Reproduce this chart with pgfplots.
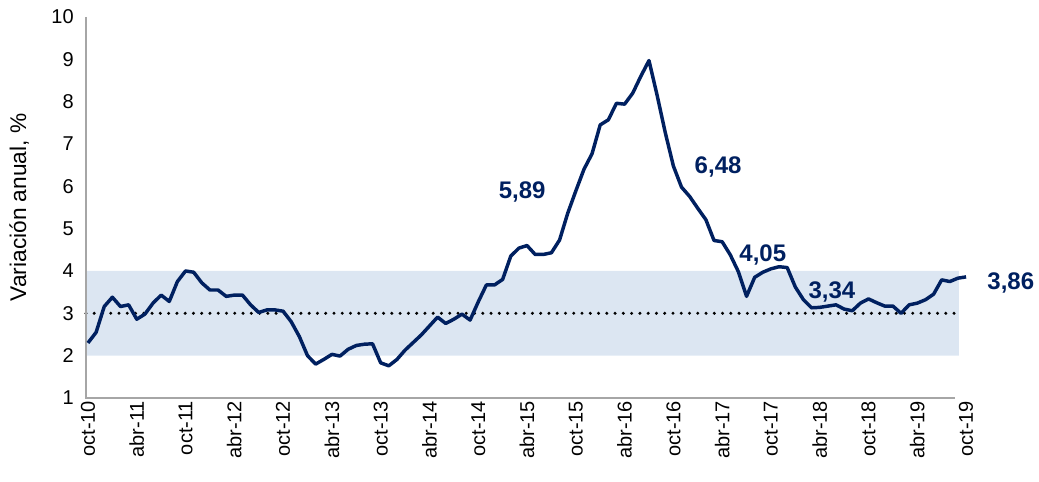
\documentclass[border=0pt]{standalone}
\usepackage{fontspec}
\setmainfont{Liberation Sans}
\usepackage{pgfplots}
\pgfplotsset{compat=1.18}
\definecolor{navy}{HTML}{002060}
\definecolor{bandblue}{HTML}{DCE6F2}
\definecolor{axisgray}{HTML}{A6A6A6}

% inflacion anual, oct-10 (0) a oct-19 (108)
\pgfplotstableread{
m v
0 2.30
1 2.55
2 3.16
3 3.38
4 3.16
5 3.20
6 2.86
7 2.98
8 3.24
9 3.43
10 3.28
11 3.75
12 4.00
13 3.97
14 3.72
15 3.55
16 3.55
17 3.40
18 3.43
19 3.43
20 3.20
21 3.02
22 3.08
23 3.08
24 3.05
25 2.80
26 2.45
27 2.00
28 1.80
29 1.91
30 2.03
31 1.99
32 2.15
33 2.24
34 2.27
35 2.28
36 1.83
37 1.76
38 1.91
39 2.13
40 2.31
41 2.49
42 2.70
43 2.91
44 2.76
45 2.86
46 2.98
47 2.84
48 3.27
49 3.67
50 3.67
51 3.80
52 4.35
53 4.54
54 4.60
55 4.39
56 4.39
57 4.43
58 4.73
59 5.36
60 5.89
61 6.40
62 6.77
63 7.45
64 7.57
65 7.96
66 7.94
67 8.20
68 8.60
69 8.97
70 8.15
71 7.27
72 6.48
73 5.98
74 5.76
75 5.48
76 5.21
77 4.72
78 4.69
79 4.38
80 3.98
81 3.40
82 3.85
83 3.97
84 4.05
85 4.10
86 4.08
87 3.62
88 3.32
89 3.13
90 3.14
91 3.17
92 3.20
93 3.10
94 3.06
95 3.24
96 3.34
97 3.25
98 3.17
99 3.17
100 3.00
101 3.20
102 3.24
103 3.32
104 3.45
105 3.79
106 3.75
107 3.83
108 3.86
}\inflacion

\begin{document}
\begin{tikzpicture}
\begin{axis}[
    scale only axis,
    width=660pt, height=285.75pt,
    xmin=-0.25, xmax=108,
    ymin=1, ymax=10,
    clip=false,
    axis line style={draw=none},
    major tick length=0pt,
    xtick={0,6,...,108},
    xticklabels={oct-10,abr-11,oct-11,abr-12,oct-12,abr-13,oct-13,abr-14,oct-14,
                 abr-15,oct-15,abr-16,oct-16,abr-17,oct-17,abr-18,oct-18,abr-19,oct-19},
    ytick={1,...,10},
    /pgf/number format/assume math mode=true,
    tick label style={font=\fontsize{15}{18}\selectfont, inner sep=0pt},
    x tick label style={rotate=90, anchor=east},
    xticklabel shift=2pt,
    yticklabel shift=9pt,
    ylabel={Variación anual, \%},
    every axis y label/.style={at={([xshift=-50pt]rel axis cs:0,0.5)}, rotate=90, anchor=center,
        font=\fontsize{17}{20}\selectfont},
]
% marco de la imagen
\path (axis cs:-10.82,-0.961) rectangle (axis cs:116.97,10.40);

% rango meta 2-4
\addplot[fill=bandblue, draw=none] coordinates {(-0.25,2) (107.1,2) (107.1,4) (-0.25,4) (-0.25,2)};
% meta 3
\addplot[black, line width=2.5pt, line cap=round, dash pattern=on 0pt off 6.2pt]
    coordinates {(-0.25,3) (106.6,3)};

\draw[axisgray, line width=1.5pt] (axis cs:-0.25,10) -- (axis cs:-0.25,1) -- (axis cs:106.6,1);

\addplot[navy, line width=2.6pt, line join=round] table[x=m, y=v] {\inflacion};

\begin{scope}[every node/.style={font=\bfseries\fontsize{18}{20}\selectfont, text=navy}]
\node at (axis cs:53.4,5.87) {5,89};
\node at (axis cs:77.5,6.46) {6,48};
\node at (axis cs:83.0,4.38) {4,05};
\node at (axis cs:91.5,3.50) {3,34};
\node at (axis cs:113.5,3.72) {3,86};
\end{scope}
\end{axis}
\end{tikzpicture}
\end{document}
